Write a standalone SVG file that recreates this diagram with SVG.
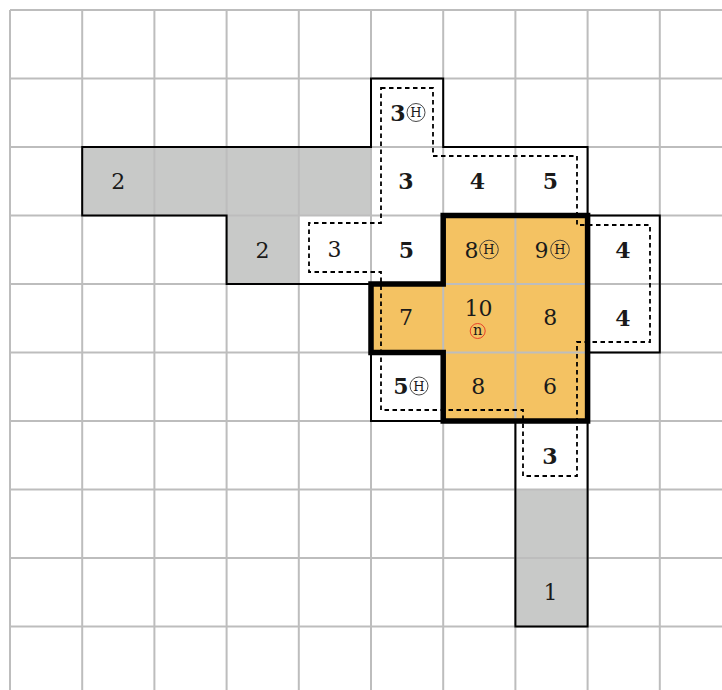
<svg xmlns="http://www.w3.org/2000/svg" width="722" height="690" viewBox="0 0 722 690">
<style>
.grid{stroke:#bdbdbd;stroke-width:2;fill:none}
.gray{fill:#c8c9c8}
.org{fill:#f4c262}
.t{font-family:"DejaVu Serif","Liberation Serif",serif;font-size:22px;fill:#1a1a1a;text-anchor:middle}
.b{font-weight:bold}
.e{text-anchor:end}
.hc{fill:none;stroke:#333;stroke-width:0.9}
.h{font-family:"DejaVu Serif","Liberation Serif",serif;font-size:13px;fill:#1a1a1a;text-anchor:middle}
.thin{fill:none;stroke:#000;stroke-width:2}
.thick{fill:none;stroke:#000;stroke-width:5.5;stroke-linejoin:miter}
.dash{fill:none;stroke:#000;stroke-width:1.8;stroke-dasharray:4.5 3.5}
</style>
<rect width="722" height="690" fill="#fff"/>
<g id="fills">
<rect class="gray" x="82.2" y="147" width="288.8" height="68.5"/>
<rect class="gray" x="226.6" y="215.5" width="72.2" height="68.5"/>
<rect class="gray" x="515.4" y="489.5" width="72.2" height="137"/>
<path class="org" d="M443.2,215.5 H587.6 V421 H443.2 V352.5 H371 V284 H443.2 Z"/>
</g>
<g id="grid" class="grid">
<path d="M10,10 V690 M82.2,10 V690 M154.4,10 V690 M226.6,10 V690 M298.8,10 V690 M371,10 V690 M443.2,10 V690 M515.4,10 V690 M587.6,10 V690 M659.8,10 V690"/>
<path d="M10,10 H722 M10,78.5 H722 M10,147 H722 M10,215.5 H722 M10,284 H722 M10,352.5 H722 M10,421 H722 M10,489.5 H722 M10,558 H722 M10,626.5 H722"/>
</g>
<g id="connectors">
<path class="thin" d="M82.2,147 H371 V78.5 H443.2 V147 H587.6 V215.5 H659.8 V352.5 H587.6 V626.5 H515.4 V421 H371 V284 H226.6 V215.5 H82.2 Z"/>
<path class="dash" d="M381,88 H433 V156 H577 V225 H650 V342 H577 V476 H523 V410 H381 V272 H309 V223 H381 Z"/>
<path class="thick" d="M443.2,215.5 H587.6 V421 H443.2 V352.5 H371 V284 H443.2 Z"/>
</g>
<g id="n-r1c5"><text class="t b e" x="405.5" y="120.5">3</text><circle class="hc" cx="416" cy="112.5" r="9"/><text class="h" x="416" y="117.2">H</text></g>
<g id="n-r2c1"><text class="t" x="118.3" y="189">2</text></g>
<g id="n-r2c5"><text class="t b" x="406" y="188.5">3</text></g>
<g id="n-r2c6"><text class="t b" x="477.5" y="188.5">4</text></g>
<g id="n-r2c7"><text class="t b" x="550.5" y="188.5">5</text></g>
<g id="n-r3c3"><text class="t" x="262.5" y="257.5">2</text></g>
<g id="n-r3c4"><text class="t" x="334.5" y="257">3</text></g>
<g id="n-r3c5"><text class="t b" x="406.5" y="257.5">5</text></g>
<g id="n-r3c6"><text class="t e" x="478.5" y="257.5">8</text><circle class="hc" cx="489" cy="249.5" r="9.3"/><text class="h" x="489" y="254.2">H</text></g>
<g id="n-r3c7"><text class="t e" x="548.5" y="257.5">9</text><circle class="hc" cx="560" cy="249.5" r="9.3"/><text class="h" x="560" y="254.2">H</text></g>
<g id="n-r3c8"><text class="t b" x="623" y="257.5">4</text></g>
<g id="n-r4c5"><text class="t" x="406" y="325">7</text></g>
<g id="n-r4c6"><text class="t" x="478.5" y="316">10</text><circle cx="477.7" cy="331" r="7.5" fill="none" stroke="#e8402a" stroke-width="1"/><text x="477.7" y="335" font-family="DejaVu Serif, Liberation Serif, serif" font-size="14.5" fill="#1a1a1a" text-anchor="middle">n</text></g>
<g id="n-r4c7"><text class="t" x="550.3" y="325">8</text></g>
<g id="n-r4c8"><text class="t b" x="623" y="326">4</text></g>
<g id="n-r5c5"><text class="t b e" x="408.5" y="394">5</text><circle class="hc" cx="419" cy="386" r="9"/><text class="h" x="419" y="390.7">H</text></g>
<g id="n-r5c6"><text class="t" x="478.3" y="394">8</text></g>
<g id="n-r5c7"><text class="t" x="550" y="394">6</text></g>
<g id="n-r6c7"><text class="t b" x="550" y="464">3</text></g>
<g id="n-r8c7"><text class="t" x="550.5" y="600">1</text></g>
</svg>
